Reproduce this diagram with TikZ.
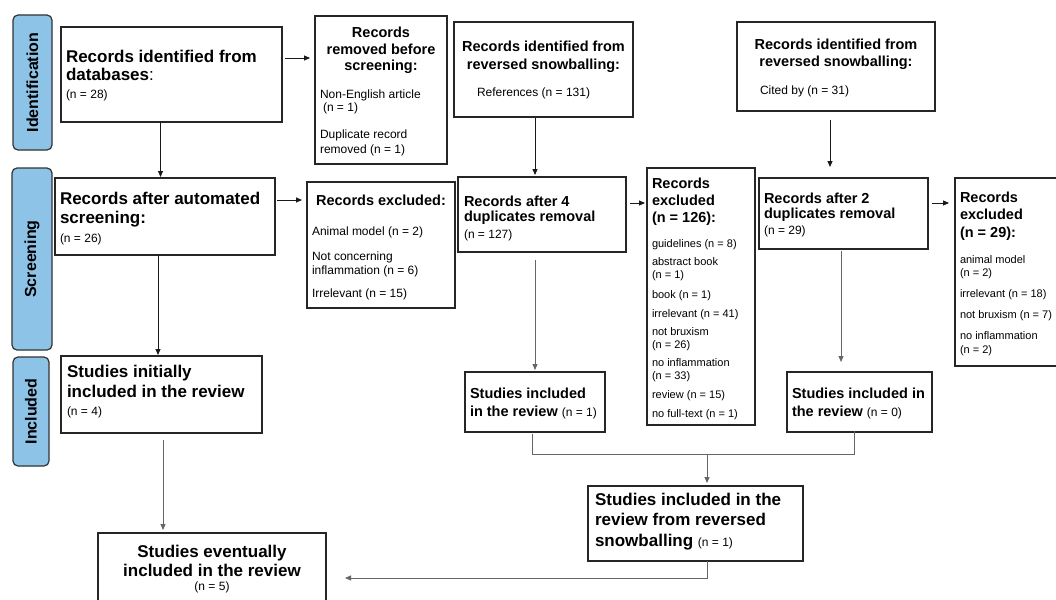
\documentclass[tikz,border=0pt]{standalone}
\usepackage{fontspec}
\setmainfont{Liberation Sans}
\setsansfont{Liberation Sans}
\usetikzlibrary{arrows.meta,calc}
\definecolor{lblue}{RGB}{142,195,232}
\newcommand{\myBig}{\fontsize{17}{19}\selectfont\bfseries}
\newcommand{\myMid}{\fontsize{14.5}{17}\selectfont\bfseries}
\newcommand{\mySm}{\fontsize{12}{14}\selectfont\mdseries}
\newcommand{\myXs}{\fontsize{11}{13}\selectfont\mdseries}
\begin{document}
\begin{tikzpicture}[x=1pt,y=-1pt,
  box/.style={draw=black!85, line width=1.2pt, inner sep=0pt, outer sep=0pt, anchor=north west, fill=white},
  side/.style={draw=black!80, line width=1.2pt, fill=lblue, rounded corners=5pt, inner sep=0pt, outer sep=0pt, anchor=north west},
  tl/.style={anchor=base west, inner sep=0pt, outer sep=0pt},
  tc/.style={anchor=base, inner sep=0pt, outer sep=0pt},
  arr/.style={line width=0.9pt, draw=black!90, -{Triangle[length=6pt,width=5pt]}},
  garr/.style={line width=0.9pt, draw=black!60, -{Triangle[length=6pt,width=5pt]}},
  gline/.style={line width=0.9pt, draw=black!60}
]
\useasboundingbox (0,0) rectangle (1056,599);
\clip (0,0) rectangle (1056,599);
\fill[white] (0,0) rectangle (1056,599);

% side labels
\node[side, minimum width=39pt, minimum height=135pt] (sid) at (13,15) {};
\node[side, minimum width=40pt, minimum height=182pt] (sscr) at (12,168) {};
\node[side, minimum width=36pt, minimum height=109pt] (sinc) at (13,357) {};
\node[rotate=90, font=\fontsize{16}{18}\selectfont\bfseries] (tid) at (sid.center) {Identification};
\node[rotate=90, font=\fontsize{16}{18}\selectfont\bfseries] (tscr) at (sscr.center) {Screening};
\node[rotate=90, font=\fontsize{16}{18}\selectfont\bfseries] (tinc) at (sinc.center) {Included};

% boxes
\node[box, minimum width=221pt, minimum height=95pt] (A) at (61,27) {};
\node[box, minimum width=132pt, minimum height=148pt] (B) at (315,16) {};
\node[box, minimum width=179pt, minimum height=95pt] (C) at (454,22) {};
\node[box, minimum width=198pt, minimum height=89pt] (E) at (737,22) {};
\node[box, minimum width=220pt, minimum height=77pt] (G) at (55,178) {};
\node[box, minimum width=148pt, minimum height=126pt] (H) at (307,182) {};
\node[box, minimum width=168pt, minimum height=75pt] (D) at (458,177) {};
\node[box, minimum width=108pt, minimum height=257pt] (I) at (647,168) {};
\node[box, minimum width=169pt, minimum height=71pt] (F) at (759,178) {};
\node[box, minimum width=150pt, minimum height=188pt] (K) at (955,178) {};
\node[box, minimum width=140pt, minimum height=60pt] (J) at (465,372) {};
\node[box, minimum width=145pt, minimum height=60pt] (L) at (787,372) {};
\node[box, minimum width=215pt, minimum height=75pt] (M) at (588,486) {};
\node[box, minimum width=201pt, minimum height=77pt] (O) at (61,356) {};
\node[box, minimum width=228pt, minimum height=80pt] (N) at (98,533) {};

% texts A
\node[tl, font=\myBig] (a1) at (66,63) {Records identified from};
\node[tl, font=\myBig] (a2) at (66,81) {databases{\mdseries:}};
\node[tl, font=\mySm] (a3) at (66,99) {(n = 28)};
% B
\node[tc, font=\myMid] (b1) at (381,38) {Records};
\node[tc, font=\myMid] (b2) at (381,55) {removed before};
\node[tc, font=\myMid] (b3) at (381,71) {screening:};
\node[tl, font=\mySm] (b4) at (320,99) {Non-English article};
\node[tl, font=\mySm] (b5) at (320,112) {\hspace{3pt}(n = 1)};
\node[tl, font=\mySm] (b6) at (320,139) {Duplicate record};
\node[tl, font=\mySm] (b7) at (320,153) {removed (n = 1)};
% C
\node[tc, font=\myMid] (c1) at (543.5,52) {Records identified from};
\node[tc, font=\myMid] (c2) at (543.5,70) {reversed snowballing:};
\node[tl, font=\mySm] (c3) at (477,97) {References (n = 131)};
% E
\node[tc, font=\myMid] (e1) at (836,50) {Records identified from};
\node[tc, font=\myMid] (e2) at (836,67) {reversed snowballing:};
\node[tl, font=\mySm] (e3) at (760,95) {Cited by (n = 31)};
% G
\node[tl, font=\myBig] (g1) at (60,204) {Records after automated};
\node[tl, font=\myBig] (g2) at (60,223) {screening:};
\node[tl, font=\mySm] (g3) at (60,242) {(n = 26)};
% H
\node[tc, font=\myMid] (h1) at (381,205) {Records excluded:};
\node[tl, font=\mySm] (h2) at (312,235) {Animal model (n = 2)};
\node[tl, font=\mySm] (h3) at (312,260) {Not concerning};
\node[tl, font=\mySm] (h4) at (312,274) {inflammation (n = 6)};
\node[tl, font=\mySm] (h5) at (312,297) {Irrelevant (n = 15)};
% D
\node[tl, font=\myMid] (d1) at (464,206) {Records after 4};
\node[tl, font=\myMid] (d2) at (464,221) {duplicates removal};
\node[tl, font=\mySm] (d3) at (464,238) {(n = 127)};
% I
\node[tl, font=\myMid] (i1) at (652,188) {Records};
\node[tl, font=\myMid] (i2) at (652,205) {excluded};
\node[tl, font=\myMid] (i3) at (652,222) {(n = 126):};
\node[tl, font=\myXs] (i4) at (652,247) {guidelines (n = 8)};
\node[tl, font=\myXs] (i5) at (652,265) {abstract book};
\node[tl, font=\myXs] (i6) at (652,278) {(n = 1)};
\node[tl, font=\myXs] (i7) at (652,298) {book (n = 1)};
\node[tl, font=\myXs] (i8) at (652,317) {irrelevant (n = 41)};
\node[tl, font=\myXs] (i9) at (652,335) {not bruxism};
\node[tl, font=\myXs] (i10) at (652,348) {(n = 26)};
\node[tl, font=\myXs] (i11) at (652,366) {no inflammation};
\node[tl, font=\myXs] (i12) at (652,379) {(n = 33)};
\node[tl, font=\myXs] (i13) at (652,398) {review (n = 15)};
\node[tl, font=\myXs] (i14) at (652,417) {no full-text (n = 1)};
% F
\node[tl, font=\myMid] (f1) at (764,203) {Records after 2};
\node[tl, font=\myMid] (f2) at (764,218) {duplicates removal};
\node[tl, font=\mySm] (f3) at (764,234) {(n = 29)};
% K
\node[tl, font=\myMid] (k1) at (960,202) {Records};
\node[tl, font=\myMid] (k2) at (960,219) {excluded};
\node[tl, font=\myMid] (k3) at (960,237) {(n = 29):};
\node[tl, font=\myXs] (k4) at (960,263) {animal model};
\node[tl, font=\myXs] (k5) at (960,276) {(n = 2)};
\node[tl, font=\myXs] (k6) at (960,297) {irrelevant (n = 18)};
\node[tl, font=\myXs] (k7) at (960,318) {not bruxism (n = 7)};
\node[tl, font=\myXs] (k8) at (960,339) {no inflammation};
\node[tl, font=\myXs] (k9) at (960,353) {(n = 2)};
% J
\node[tl, font=\myMid] (j1) at (470,398) {Studies included};
\node[tl, font=\myMid] (j2) at (470,416) {in the review {\mySm(n = 1)}};
% L
\node[tl, font=\myMid] (l1) at (792,398) {Studies included in};
\node[tl, font=\myMid] (l2) at (792,416) {the review {\mySm(n = 0)}};
% M
\node[tl, font=\myBig] (m1) at (595,505) {Studies included in the};
\node[tl, font=\myBig] (m2) at (595,525) {review from reversed};
\node[tl, font=\myBig] (m3) at (595,546) {snowballing {\mySm(n = 1)}};
% O
\node[tl, font=\myBig] (o1) at (67,377) {Studies initially};
\node[tl, font=\myBig] (o2) at (67,397) {included in the review};
\node[tl, font=\mySm] (o3) at (67,415) {(n = 4)};
% N
\node[tc, font=\myBig] (n1) at (212,557) {Studies eventually};
\node[tc, font=\myBig] (n2) at (212,576) {included in the review};
\node[tc, font=\mySm] (n3) at (212,590) {(n = 5)};

% connectors
\draw[arr, shorten >=1pt] ($(A.south)+(-11,0)$) -- ($(A.south |- G.north)+(-11,0)$);
\draw[arr, shorten <=3pt, shorten >=5pt] ($(A.east)+(0,-16.5)$) -- ($(A.east -| B.west)+(0,-16.5)$);
\draw[arr, shorten <=1pt, shorten >=2pt] ($(C.south)+(-8.5,0)$) -- ($(C.south |- D.north)+(-8.5,0)$);
\draw[arr, shorten <=9pt, shorten >=11pt] ($(E.south)+(-6,0)$) -- ($(E.south |- F.north)+(-6,0)$);
\draw[arr, shorten <=2pt, shorten >=5pt] ($(G.east)+(0,-16.5)$) -- ($(G.east -| H.west)+(0,-16.5)$);
\draw[arr, shorten >=1pt] ($(G.south)+(-7,0)$) -- ($(G.south |- O.north)+(-7,0)$);
\draw[arr, shorten <=4pt, shorten >=2pt] ($(D.east)+(0,-11.5)$) -- ($(D.east -| I.west)+(0,-11.5)$);
\draw[arr, shorten <=4pt, shorten >=6pt] ($(F.east)+(0,-10.5)$) -- ($(F.east -| K.west)+(0,-10.5)$);
\draw[garr, shorten <=8pt, shorten >=2pt] ($(D.south)+(-7,0)$) -- ($(D.south |- J.north)+(-7,0)$);
\draw[garr, shorten <=2pt, shorten >=10pt] ($(F.south)+(-2.5,0)$) -- ($(F.south |- L.north)+(-2.5,0)$);
\draw[garr, shorten <=7pt, shorten >=3pt] ($(O.south)+(1.5,0)$) -- ($(O.south |- N.north)+(1.5,0)$);
\draw[gline] ($(J.south)+(-3,2)$) -- ($(J.south)+(-3,22)$) -| ($(L.south)+(-5,-1)$);
\draw[garr, shorten >=3pt] ($(M.north |- J.south)+(11.5,22)$) -- ($(M.north)+(11.5,0)$);
\draw[garr] ($(M.south)+(11.5,0)$) |- ($(N.east)+(19,5)$);
\end{tikzpicture}
\end{document}
